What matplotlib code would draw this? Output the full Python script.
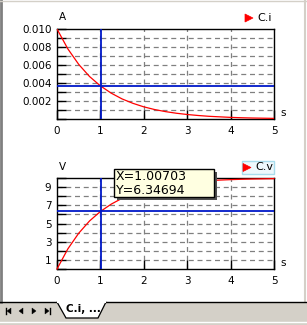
import matplotlib
matplotlib.use("Agg")
import matplotlib.pyplot as plt
from matplotlib.patches import Rectangle, Polygon
from matplotlib.lines import Line2D
from matplotlib.ticker import FixedLocator, FuncFormatter

# ---- data ----
t = [0, 0.25, 0.5, 0.75, 1.0, 1.25, 1.5, 1.75, 2.0, 2.25, 2.5, 2.75, 3.0,
     3.25, 3.5, 3.75, 4.0, 4.25, 4.5, 4.75, 5.0]
current = [0.0100, 0.00779, 0.00607, 0.00472, 0.00368, 0.00287, 0.00223,
           0.00174, 0.00135, 0.00105, 0.00082, 0.00064, 0.00050, 0.00039,
           0.00030, 0.00024, 0.00018, 0.00014, 0.00011, 0.00009, 0.00007]
voltage = [0.0, 2.21, 3.93, 5.28, 6.32, 7.13, 7.77, 8.26, 8.65, 8.95, 9.18,
           9.36, 9.50, 9.61, 9.70, 9.77, 9.82, 9.86, 9.89, 9.91, 9.93]
cursor_x = 1.00703
cursor_i = 0.00365
cursor_v = 6.34694
x_ticks = [0, 1, 2, 3, 4, 5]
i_ticks = [0.001 * k for k in range(0, 11)]
v_ticks = list(range(0, 11))
series_names = ["C.i", "C.v"]
units = ["A", "V"]
tab_label = "C.i, ..."

W, H = 307, 325
fig = plt.figure(figsize=(W / 100, H / 100), dpi=100)
fig.patch.set_facecolor("white")


def fx(x):
    return x / W


def fy(y):
    return 1 - y / H


def ax_rect(l, t_, r, b):
    return [fx(l), fy(b), fx(r) - fx(l), fy(t_) - fy(b)]


BLUE = "#0018c8"
GRID = "#808080"
FS = 7.5


def style_axes(ax, yticks, ymax, fmt):
    ax.set_xlim(0, 5)
    ax.set_ylim(0, ymax)
    for s in ax.spines.values():
        s.set_color("black")
        s.set_linewidth(1.0)
    ax.xaxis.set_major_locator(FixedLocator(x_ticks))
    ax.yaxis.set_major_locator(FixedLocator(yticks))
    ax.yaxis.set_major_formatter(FuncFormatter(fmt))
    ax.tick_params(direction="in", length=6.5, width=1.0, color="black",
                   labelsize=FS, pad=4)
    ax.tick_params(axis="x", pad=5)
    for y in yticks[1:-1]:
        ax.axhline(y, color=GRID, lw=0.9, ls=(0, (4, 3)), zorder=0.5)
    for x in x_ticks[1:-1]:
        ax.axvline(x, color=GRID, lw=0.9, ls=(0, (4, 3)), zorder=0.5)


def fmt_i(v, pos):
    k = int(round(v * 1000))
    if k == 0 or k % 2:
        return ""
    return f"{v:.3f}"


def fmt_v(v, pos):
    k = int(round(v))
    return str(k) if k % 2 else ""


ax1 = fig.add_axes(ax_rect(57, 29, 274, 119))
style_axes(ax1, i_ticks, 0.010, fmt_i)
ax1.plot(t, current, color="red", lw=0.9, zorder=3)
ax1.axvline(cursor_x, color=BLUE, lw=1.3, zorder=4)
ax1.axhline(cursor_i, color=BLUE, lw=1.3, zorder=4)

ax2 = fig.add_axes(ax_rect(57, 178, 274, 269))
style_axes(ax2, v_ticks, 10, fmt_v)
ax2.plot(t, voltage, color="red", lw=0.9, zorder=3, clip_on=False)
ax2.axvline(cursor_x, color=BLUE, lw=1.3, zorder=4)
ax2.axhline(cursor_v, color=BLUE, lw=1.3, zorder=4)

# unit labels
fig.text(fx(62), fy(17), units[0], fontsize=FS, ha="center", va="center")
fig.text(fx(62), fy(167), units[1], fontsize=FS, ha="center", va="center")
fig.text(fx(283), fy(113), "s", fontsize=FS, ha="center", va="center")
fig.text(fx(283), fy(263), "s", fontsize=FS, ha="center", va="center")

# legends
fig.add_artist(Rectangle((fx(242), fy(174)), fx(274) - fx(242), fy(161) - fy(174),
                         transform=fig.transFigure, facecolor="#eef8fc",
                         edgecolor="#a8dcec", lw=1.0))
for (x0, y0, name) in [(249, 18, series_names[0]), (247, 167.5, series_names[1])]:
    fig.add_artist(Polygon([(fx(x0 - 4), fy(y0 - 4)), (fx(x0 - 4), fy(y0 + 4)),
                            (fx(x0 + 4), fy(y0))], closed=True,
                           transform=fig.transFigure, facecolor="red",
                           edgecolor="red", lw=0.5))
    fig.text(fx(x0 + 8), fy(y0), name, fontsize=FS + 0.5, ha="left", va="center")

# tooltip
fig.add_artist(Rectangle((fx(117), fy(200)), fx(217) - fx(117), fy(172) - fy(200),
                         transform=fig.transFigure, facecolor="#505050",
                         edgecolor="none", zorder=5))
fig.add_artist(Rectangle((fx(114), fy(197)), fx(214) - fx(114), fy(169) - fy(197),
                         transform=fig.transFigure, facecolor="#ffffe1",
                         edgecolor="black", lw=1.0, zorder=6))
fig.text(fx(116), fy(176.5), f"X={cursor_x:.5f}", fontsize=9, ha="left",
         va="center", zorder=7)
fig.text(fx(116), fy(190), f"Y={cursor_v:.5f}", fontsize=9, ha="left",
         va="center", zorder=7)

# window frame
fig.add_artist(Line2D([fx(1), fx(1)], [fy(0), fy(302)], transform=fig.transFigure,
                      color="#808080", lw=2.0))
fig.add_artist(Line2D([fx(305), fx(305)], [fy(0), fy(302)], transform=fig.transFigure,
                      color="#d4d0c8", lw=1.5))
fig.add_artist(Line2D([fx(0), fx(307)], [fy(0.5), fy(0.5)], transform=fig.transFigure,
                      color="#d4d0c8", lw=1.0))

# tab bar
fig.add_artist(Rectangle((0, 0), 1, fy(302), transform=fig.transFigure,
                         facecolor="#d4d0c8", edgecolor="none"))
fig.add_artist(Line2D([fx(0), fx(307)], [fy(302), fy(302)], transform=fig.transFigure,
                      color="black", lw=1.0))
fig.add_artist(Line2D([fx(0), fx(307)], [fy(322), fy(322)], transform=fig.transFigure,
                      color="white", lw=1.0))
fig.add_artist(Polygon([(fx(57), fy(302)), (fx(66), fy(318)), (fx(98), fy(318)),
                        (fx(106), fy(302))], closed=True, transform=fig.transFigure,
                       facecolor="white", edgecolor="black", lw=0.9, zorder=2))
fig.add_artist(Line2D([fx(58), fx(105)], [fy(302), fy(302)], transform=fig.transFigure,
                      color="white", lw=1.5, zorder=3))
fig.text(fx(66), fy(309), tab_label, fontsize=7.5, fontweight="bold",
         ha="left", va="center", zorder=4)


def tri(xc, yc, direction):
    s = 3
    if direction > 0:
        pts = [(xc - s + 1, yc - s), (xc - s + 1, yc + s), (xc + s - 1, yc)]
    else:
        pts = [(xc + s - 1, yc - s), (xc + s - 1, yc + s), (xc - s + 1, yc)]
    fig.add_artist(Polygon([(fx(a), fy(b)) for a, b in pts], closed=True,
                           transform=fig.transFigure, facecolor="black",
                           edgecolor="black", lw=0.3, zorder=3))


def bar(xc, yc):
    fig.add_artist(Line2D([fx(xc), fx(xc)], [fy(yc - 3), fy(yc + 3)],
                          transform=fig.transFigure, color="black", lw=1.0, zorder=3))


bar(6, 311); tri(9, 311, -1)
tri(21, 311, -1)
tri(34, 311, 1)
tri(47, 311, 1); bar(50, 311)

fig.savefig("out.png", dpi=100, facecolor=fig.get_facecolor())
